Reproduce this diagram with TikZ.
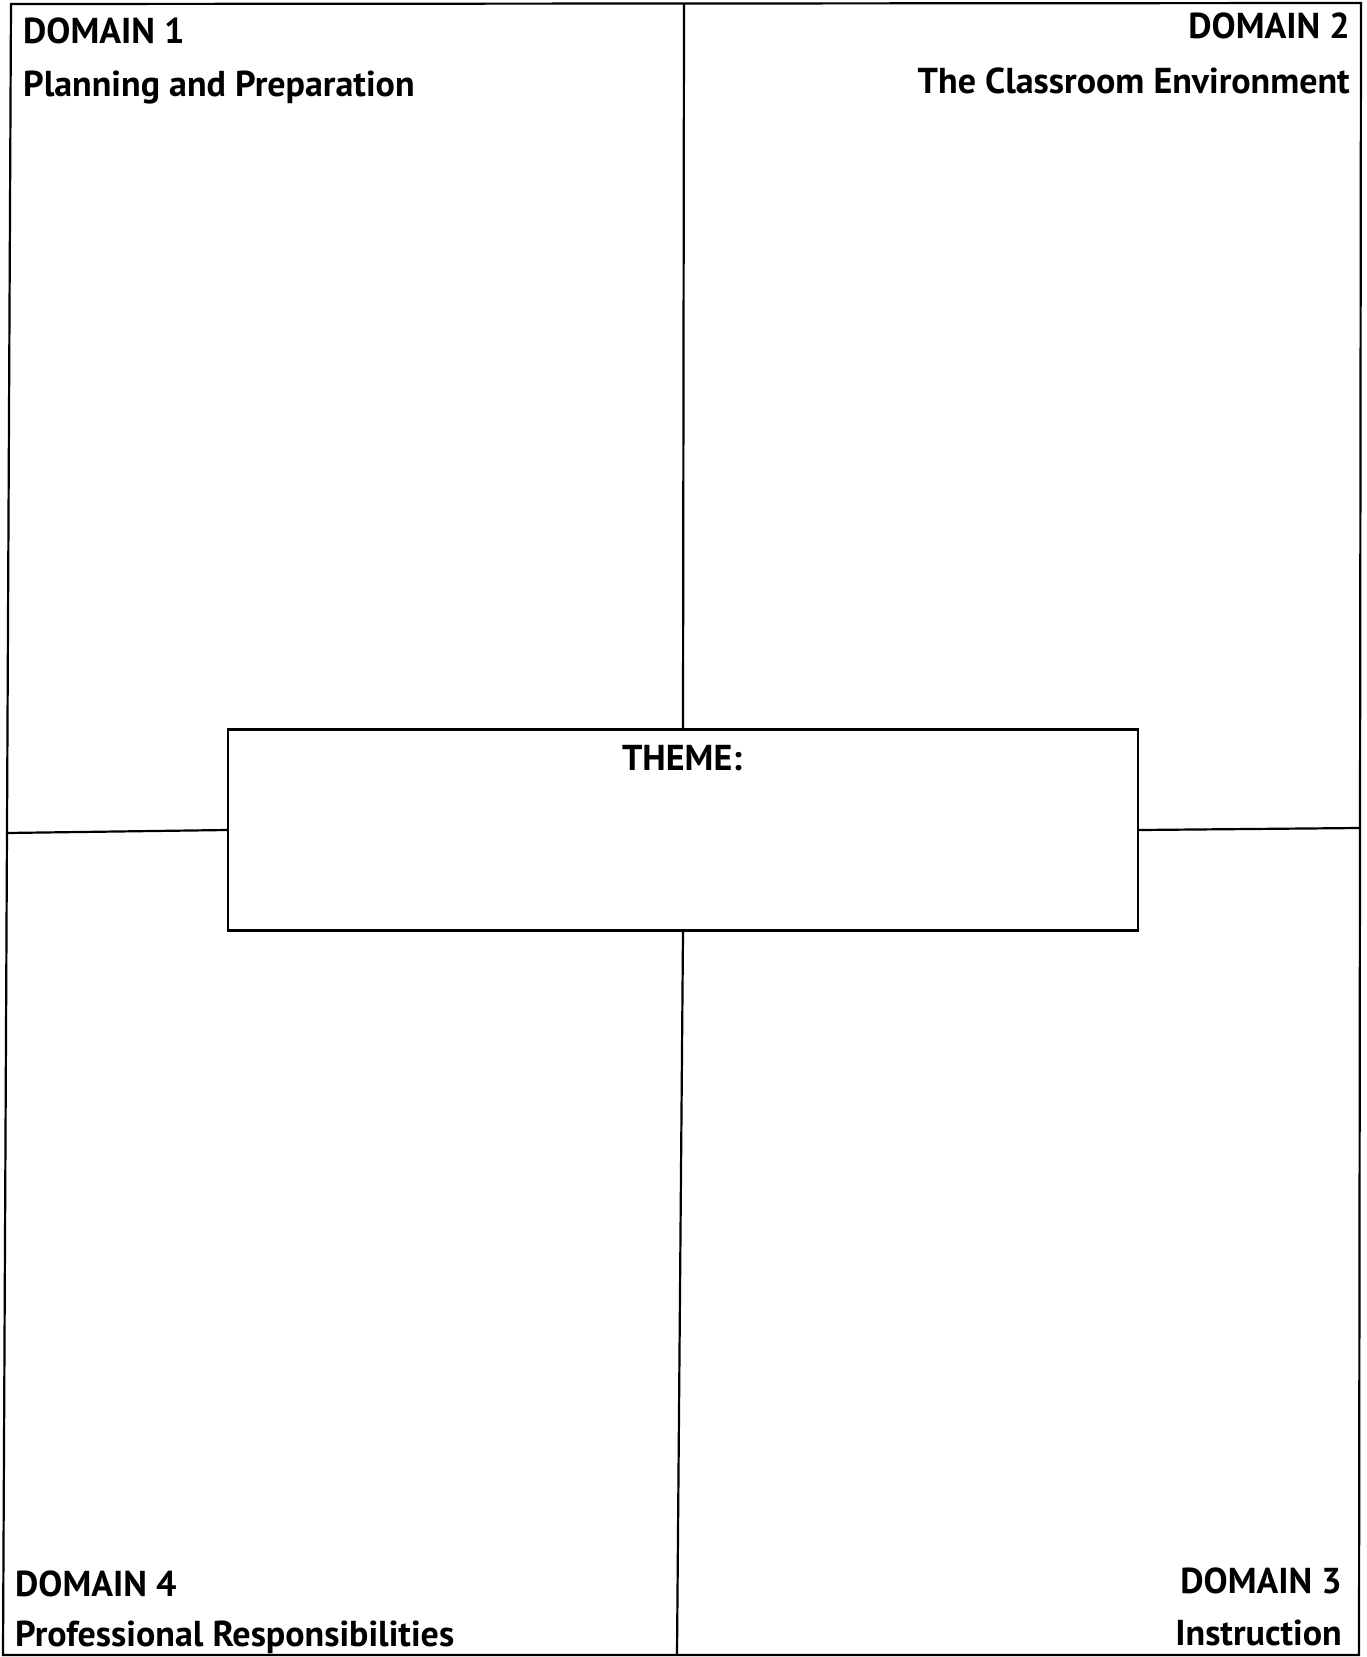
\documentclass[tikz,border=0pt]{standalone}
\usepackage{fontspec}
\setmainfont{PT Sans}
\usepackage{tikz}
\usetikzlibrary{positioning}
\tikzset{
  frameline/.style={line width=2.2pt, line join=miter},
  themebox/.style={draw, line width=2.2pt, minimum width=910pt, minimum height=201pt, inner sep=0pt},
  domlabel/.style={font=\fontsize{36}{40}\selectfont\bfseries, inner sep=0pt}
}

\begin{document}
\begin{tikzpicture}[x=1pt, y=-1pt]
  \useasboundingbox (0,0) rectangle (1367,1657);
  % outer frame corners
  \coordinate (tl) at (11,4);
  \coordinate (tr) at (1361,3);
  \coordinate (br) at (1359,1655);
  \coordinate (bl) at (3,1655);
  \draw[frameline] (tl) -- (tr) -- (br) -- (bl) -- cycle;
  % theme box in the middle
  \node[themebox] (theme) at (683,830) {};
  \node[domlabel, anchor=base] (themelbl) at (682,770) {THEME:};
  % dividing lines
  \coordinate (midtop) at (684,4);
  \coordinate (midbot) at (677,1655);
  \coordinate (midleft) at (6,833);
  \coordinate (midright) at (1360,828);
  \draw[frameline] (midtop) -- (theme.north);
  \draw[frameline] (theme.south) -- (midbot);
  \draw[frameline] (midleft) -- (theme.west);
  \draw[frameline] (theme.east) -- (midright);
  % domain labels
  \node[domlabel, anchor=base west] (d1) at (23,43) {DOMAIN 1};
  \node[domlabel, anchor=base west] (d1name) at (23,96) {Planning and Preparation};
  \node[domlabel, anchor=base east] (d2) at (1350,38) {DOMAIN 2};
  \node[domlabel, anchor=base east] (d2name) at (1350,93) {The Classroom Environment};
  \node[domlabel, anchor=base east] (d3) at (1342,1593) {DOMAIN 3};
  \node[domlabel, anchor=base east] (d3name) at (1342,1645) {Instruction};
  \node[domlabel, anchor=base west] (d4) at (15,1596) {DOMAIN 4};
  \node[domlabel, anchor=base west] (d4name) at (15,1646) {Professional Responsibilities};
\end{tikzpicture}
\end{document}
